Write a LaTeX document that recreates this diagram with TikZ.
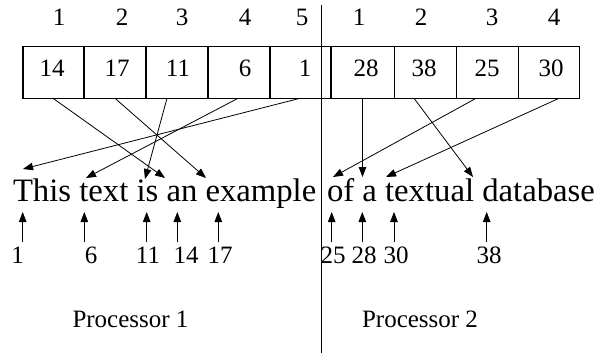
\documentclass[tikz,border=0pt]{standalone}
\usepackage{fontspec}
\setmainfont{Liberation Serif}
\usetikzlibrary{arrows.meta}
\begin{document}
\begin{tikzpicture}[x=1pt,y=-1pt,
  cell/.style={draw,line width=1.1pt,minimum height=51.6pt,inner sep=0pt,outer sep=0pt},
  small/.style={font=\fontsize{25}{28}\selectfont,inner sep=0pt,outer sep=0pt,anchor=base},
  num/.style={font=\fontsize{25}{28}\selectfont,inner sep=4pt,outer sep=0pt,anchor=base},
  big/.style={font=\fontsize{32.7}{36}\selectfont,inner sep=0pt,outer sep=0pt,anchor=base west},
  arr/.style={line width=0.8pt,-{Triangle[length=10pt,width=7.5pt]}},
  divline/.style={line width=1.1pt}]
\useasboundingbox (0,0) rectangle (599,353);
% cells
\node[cell,minimum width=61pt] (c1) at (53.5,72.5) {};
\node[cell,minimum width=62pt] (c2) at (115,72.5) {};
\node[cell,minimum width=62pt] (c3) at (177,72.5) {};
\node[cell,minimum width=62pt] (c4) at (239,72.5) {};
\node[cell,minimum width=61pt] (c5) at (300.5,72.5) {};
\node[cell,minimum width=63pt] (c6) at (363,72.5) {};
\node[cell,minimum width=62pt] (c7) at (425.5,72.5) {};
\node[cell,minimum width=62pt] (c8) at (487.5,72.5) {};
\node[cell,minimum width=61pt] (c9) at (549,72.5) {};
% values
\node[small] (v1) at (52,77) {14};
\node[small] (v2) at (117,77) {17};
\node[small] (v3) at (178,77) {11};
\node[small] (v4) at (245,77) {6};
\node[small] (v5) at (305,77) {1};
\node[small] (v6) at (366,77) {28};
\node[small] (v7) at (424,77) {38};
\node[small] (v8) at (487,77) {25};
\node[small] (v9) at (551,77) {30};
% indices
\node[small] (i1) at (59,26) {1};
\node[small] (i2) at (122,26) {2};
\node[small] (i3) at (182,26) {3};
\node[small] (i4) at (245,26) {4};
\node[small] (i5) at (302,26) {5};
\node[small] (i6) at (359,26) {1};
\node[small] (i7) at (421,26) {2};
\node[small] (i8) at (492,26) {3};
\node[small] (i9) at (554,26) {4};
% divider
\coordinate (dtop) at (321.7,5);
\coordinate (dbot) at (321.7,353);
\draw[divline] (dtop) -- (dbot);
% text
\node[big] (t1) at (13,201.7) {This text is an example};
\node[big] (t2) at (327,201.7) {of a textual database};
% top arrow targets
\coordinate (pT) at (23,169);
\coordinate (pt6) at (86,178);
\coordinate (pi11) at (145,179);
\coordinate (pa14) at (165,178);
\coordinate (pe17) at (206,178);
\coordinate (po25) at (333,177);
\coordinate (pa28) at (362.5,177);
\coordinate (pt30) at (386,177);
\coordinate (pd38) at (473,177);
\draw[arr] ([xshift=-0.5pt]c1.south) -- (pa14);
\draw[arr] (c2.south) -- (pe17);
\draw[arr] ([xshift=-10pt]c3.south) -- (pi11);
\draw[arr] ([xshift=-1pt]c4.south) -- (pt6);
\draw[arr] ([xshift=-0.5pt]c5.south) -- (pT);
\draw[arr] ([xshift=-0.5pt]c6.south) -- (pa28);
\draw[arr] ([xshift=-11.5pt]c7.south) -- (pd38);
\draw[arr] ([xshift=-11.5pt]c8.south) -- (po25);
\draw[arr] ([xshift=10pt]c9.south) -- (pt30);
% bottom numbers
\node[num] (n1) at (17.5,263) {1};
\node[num] (n6) at (91,263) {6};
\node[num] (n11) at (148,263) {11};
\node[num] (n14) at (186,263) {14};
\node[num] (n17) at (220,263) {17};
\node[num] (n25) at (333,263) {25};
\node[num] (n28) at (364,263) {28};
\node[num] (n30) at (396,263) {30};
\node[num] (n38) at (489,263) {38};
\coordinate (b1) at (22.7,212);
\coordinate (b6) at (84.3,212);
\coordinate (b11) at (146.7,212);
\coordinate (b14) at (177.3,212);
\coordinate (b17) at (218.3,212);
\coordinate (b25) at (331.7,212);
\coordinate (b28) at (362.3,212);
\coordinate (b30) at (394,212);
\coordinate (b38) at (486.7,212);
\draw[arr] (n1.north -| b1) -- (b1);
\draw[arr] (n6.north -| b6) -- (b6);
\draw[arr] (n11.north -| b11) -- (b11);
\draw[arr] (n14.north -| b14) -- (b14);
\draw[arr] (n17.north -| b17) -- (b17);
\draw[arr] (n25.north -| b25) -- (b25);
\draw[arr] (n28.north -| b28) -- (b28);
\draw[arr] (n30.north -| b30) -- (b30);
\draw[arr] (n38.north -| b38) -- (b38);
% processors
\node[small] (pr1) at (130.5,327) {Processor 1};
\node[small] (pr2) at (420,327) {Processor 2};
\end{tikzpicture}
\end{document}
